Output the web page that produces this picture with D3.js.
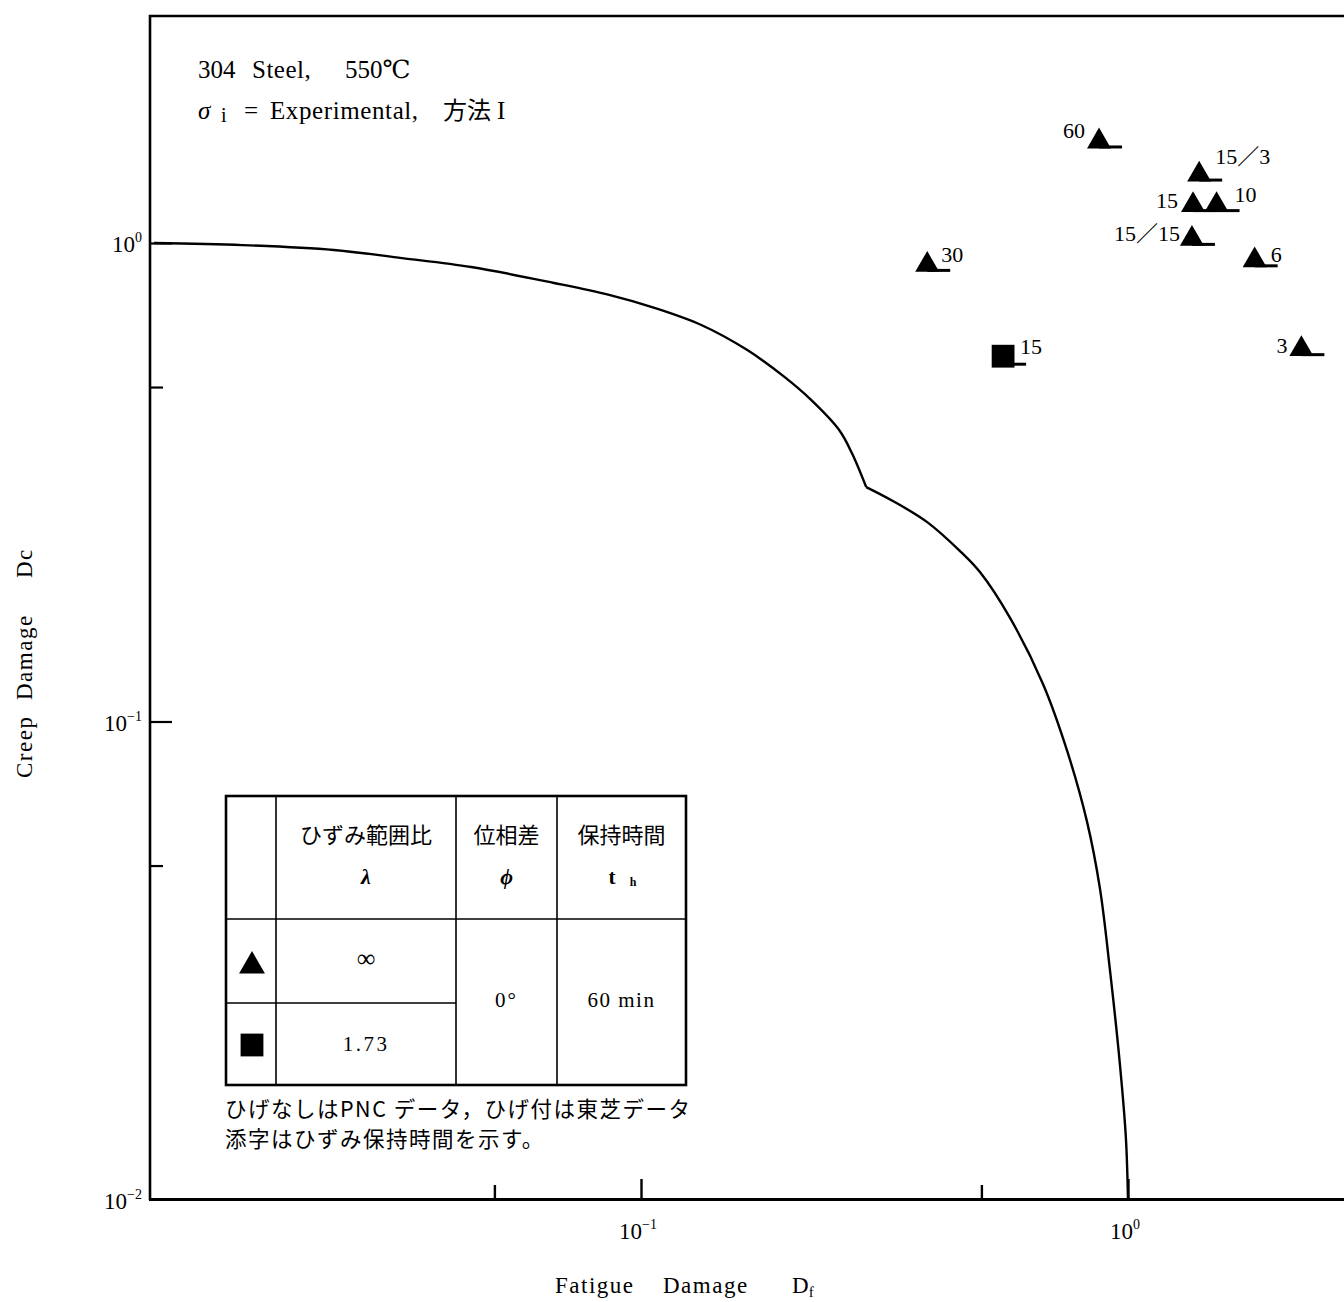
<!DOCTYPE html>
<html><head><meta charset="utf-8">
<script src="https://cdn.jsdelivr.net/npm/d3@7"></script>
<style>
body{margin:0;background:#fff}
svg{display:block}
.serif{font-family:"Liberation Serif","DejaVu Serif","Noto Sans CJK JP",serif;fill:#000}
.cjk{font-family:"Noto Sans CJK JP","Liberation Serif",sans-serif;fill:#000}
</style>
</head><body>
<svg id="c" width="1344" height="1302"></svg>
<script>
// ---------- DATA ----------
// interaction curve (Fatigue damage Df, Creep damage Dc), two branches meeting at a kink
const curveUpperDf = [0.01, 0.0152, 0.0234, 0.0323, 0.0448, 0.0663, 0.086, 0.107, 0.133, 0.165, 0.197, 0.2235, 0.255, 0.271, 0.29];
const curveUpperDc = [1.0, 0.990, 0.967, 0.930, 0.891, 0.825, 0.779, 0.731, 0.674, 0.598, 0.525, 0.470, 0.407, 0.364, 0.309];
const curveLowerDf = [0.29, 0.329, 0.387, 0.452, 0.497, 0.5725, 0.669, 0.750, 0.824, 0.876, 0.918, 0.963, 0.990, 1.0];
const curveLowerDc = [0.309, 0.289, 0.261, 0.227, 0.205, 0.1646, 0.1198, 0.0868, 0.0617, 0.0447, 0.0303, 0.0191, 0.0135, 0.01];

// experimental points
const pointLabels = ["60", "15／3", "15", "10", "15／15", "6", "3", "30", "15"];
const pointDf     = [0.872, 1.40, 1.36, 1.52, 1.353, 1.82, 2.27, 0.387, 0.554];
const pointDc     = [1.63, 1.39, 1.20, 1.20, 1.02, 0.92, 0.60, 0.90, 0.58];
const pointShape  = ["triangle","triangle","triangle","triangle","triangle","triangle","triangle","triangle","square"];
const pointWhisker= [true, true, true, true, true, true, true, true, true];

// ticks
const xMajorTicks = [0.1, 1];
const xMinorTicks = [0.05, 0.5];
const xTickLabels = [["10","−1"], ["10","0"]];
const yMajorTicks = [1, 0.1];
const yMinorTicks = [0.5, 0.05];
const yLabelTicks = [1, 0.1, 0.01];
const yTickLabels = [["10","0"], ["10","−1"], ["10","−2"]];

// legend table
const legendHeaders = ["ひずみ範囲比", "位相差", "保持時間"];
const legendHeaderSymbols = ["λ", "ϕ", "t"];
const legendShapes = ["triangle", "square"];
const legendLambda = ["∞", "1.73"];
const legendPhase = "0°";
const legendHold = "60 min";
const notes = ["ひげなしはPNC データ，ひげ付は東芝データ", "添字はひずみ保持時間を示す。"];

// label layout (side / offsets for point annotations)
const labelLayout = [
  {a:"end", dx:-14, dy:-3}, {a:"start", dx:16, dy:-11}, {a:"end", dx:-15, dy:3},
  {a:"start", dx:18, dy:-3}, {a:"end", dx:-12, dy:2}, {a:"start", dx:16, dy:2},
  {a:"end", dx:-14, dy:4}, {a:"start", dx:14, dy:-3}, {a:"start", dx:17, dy:-2}
];

// ---------- CHART ----------
const svg = d3.select("#c");
const x = d3.scaleLog().domain([0.01, 1]).range([154, 1128]);
const y = d3.scaleLog().domain([0.01, 1]).range([1200, 243]);

// frame
svg.append("path").attr("d","M150,1200 L150,16 L1344,16")
  .attr("fill","none").attr("stroke","#000").attr("stroke-width",2.6);
svg.append("line").attr("x1",149).attr("x2",1344).attr("y1",1199.5).attr("y2",1199.5)
  .attr("stroke","#000").attr("stroke-width",3.2);

// x axis ticks (pointing up)
const xAxisG = svg.append("g").attr("transform","translate(0,1199)");
xAxisG.append("g").call(d3.axisTop(x).tickValues(xMajorTicks).tickSize(20).tickFormat(""))
  .call(g=>g.select(".domain").remove());
xAxisG.append("g").call(d3.axisTop(x).tickValues(xMinorTicks).tickSize(14).tickFormat(""))
  .call(g=>g.select(".domain").remove());
xAxisG.selectAll(".tick line").attr("stroke","#000").attr("stroke-width",2.4);

// y axis ticks (pointing right)
const yAxisG = svg.append("g").attr("transform","translate(150,0)");
yAxisG.append("g").call(d3.axisRight(y).tickValues(yMajorTicks).tickSize(22).tickFormat(""))
  .call(g=>g.select(".domain").remove());
yAxisG.append("g").call(d3.axisRight(y).tickValues(yMinorTicks).tickSize(13).tickFormat(""))
  .call(g=>g.select(".domain").remove());
yAxisG.selectAll(".tick line").attr("stroke","#000").attr("stroke-width",2.2);

// tick labels
xMajorTicks.forEach((v,i)=>{
  const t = svg.append("text").attr("class","serif").attr("x",x(v)-3).attr("y",1239)
    .attr("text-anchor","middle").attr("font-size",23);
  t.append("tspan").text(xTickLabels[i][0]);
  t.append("tspan").attr("font-size",14).attr("dy",-10).text(xTickLabels[i][1]);
});
yLabelTicks.forEach((v,i)=>{
  const t = svg.append("text").attr("class","serif").attr("x",142).attr("y",y(v)+9)
    .attr("text-anchor","end").attr("font-size",23);
  t.append("tspan").text(yTickLabels[i][0]);
  t.append("tspan").attr("font-size",14).attr("dy",-10).text(yTickLabels[i][1]);
});

// axis titles
const xt = svg.append("text").attr("class","serif").attr("y",1293).attr("font-size",23);
xt.append("tspan").attr("x",555).attr("letter-spacing",1.5).text("Fatigue");
xt.append("tspan").attr("x",663).attr("letter-spacing",1.5).text("Damage");
xt.append("tspan").attr("x",792).text("D");
xt.append("tspan").attr("font-size",15).attr("dy",4).text("f");

const yt = svg.append("text").attr("class","serif").attr("font-size",23)
  .attr("transform","translate(32,0) rotate(-90)").attr("y",0);
yt.append("tspan").attr("x",-778).attr("letter-spacing",1.5).text("Creep");
yt.append("tspan").attr("x",-700).attr("letter-spacing",1.5).text("Damage");
yt.append("tspan").attr("x",-578).attr("letter-spacing",1.5).text("Dc");

// annotation text
const a1 = svg.append("text").attr("class","serif").attr("y",78).attr("font-size",25);
a1.append("tspan").attr("x",198).text("304");
a1.append("tspan").attr("x",252).attr("letter-spacing",0.5).text("Steel,");
a1.append("tspan").attr("x",345).text("550℃");
const a2 = svg.append("text").attr("class","serif").attr("y",119).attr("font-size",25);
a2.append("tspan").attr("x",198).attr("font-style","italic").text("σ");
a2.append("tspan").attr("x",221).attr("font-size",20).attr("dy",3).text("i");
a2.append("tspan").attr("x",244).attr("dy",-3).text("=");
a2.append("tspan").attr("x",270).attr("letter-spacing",0.6).text("Experimental,");
a2.append("tspan").attr("x",443).attr("class","cjk").attr("font-size",24).text("方法");
a2.append("tspan").attr("x",497).text("I");

// curve
const line = d3.line().x(d=>x(d[0])).y(d=>y(d[1])).curve(d3.curveCatmullRom.alpha(0.5));
const upper = curveUpperDf.map((v,i)=>[v, curveUpperDc[i]]);
const lower = curveLowerDf.map((v,i)=>[v, curveLowerDc[i]]);
[upper, lower].forEach(seg=>{
  svg.append("path").attr("d", line(seg)).attr("fill","none")
    .attr("stroke","#000").attr("stroke-width",2.4).attr("stroke-linejoin","miter");
});

// points
const triSym = d3.symbol().type(d3.symbolTriangle).size(250);
const sqSym = d3.symbol().type(d3.symbolSquare).size(520);
pointDf.forEach((v,i)=>{
  const cx = x(v), cy = y(pointDc[i]);
  const tri = pointShape[i]==="triangle";
  svg.append("path").attr("d", tri ? triSym() : sqSym())
    .attr("transform",`translate(${cx},${cy})`).attr("fill","#000");
  if(pointWhisker[i]){
    const wy = tri ? cy+5.5 : cy+8;
    svg.append("line").attr("x1",cx).attr("x2",cx+23).attr("y1",wy).attr("y2",wy)
      .attr("stroke","#000").attr("stroke-width",3);
  }
  const L = labelLayout[i];
  svg.append("text").attr("class","serif").attr("font-size",22)
    .attr("x",cx+L.dx).attr("y",cy+L.dy).attr("text-anchor",L.a).text(pointLabels[i]);
});

// legend table
const T = {l:226, t:796, r:686, b:1085, c1:276, c2:456, c3:557, h:919, m:1003};
svg.append("rect").attr("x",T.l).attr("y",T.t).attr("width",T.r-T.l).attr("height",T.b-T.t)
  .attr("fill","#fff").attr("stroke","#000").attr("stroke-width",2.6);
[[T.c1,T.t,T.c1,T.b],[T.c2,T.t,T.c2,T.b],[T.c3,T.t,T.c3,T.b],[T.l,T.h,T.r,T.h],[T.l,T.m,T.c2,T.m]]
  .forEach(s=>svg.append("line").attr("x1",s[0]).attr("y1",s[1]).attr("x2",s[2]).attr("y2",s[3])
    .attr("stroke","#000").attr("stroke-width",1.6));
const colC = [(T.c1+T.c2)/2, (T.c2+T.c3)/2, (T.c3+T.r)/2];
legendHeaders.forEach((h,i)=>{
  svg.append("text").attr("class","cjk").attr("font-size",22).attr("x",colC[i]).attr("y",843)
    .attr("text-anchor","middle").text(h);
});
svg.append("text").attr("class","serif").attr("font-size",22).attr("font-weight","bold")
  .attr("font-style","italic").attr("x",colC[0]).attr("y",884).attr("text-anchor","middle").text(legendHeaderSymbols[0]);
svg.append("text").attr("class","serif").attr("font-size",22).attr("font-weight","bold")
  .attr("font-style","italic").attr("x",colC[1]).attr("y",884).attr("text-anchor","middle").text(legendHeaderSymbols[1]);
const th = svg.append("text").attr("class","serif").attr("font-size",21).attr("font-weight","bold")
  .attr("x",612).attr("y",884).attr("text-anchor","middle");
th.append("tspan").text(legendHeaderSymbols[2]);
th.append("tspan").attr("x",633).attr("font-size",12).attr("dy",2).text("h");

const rowC = [(T.h+T.m)/2, (T.m+T.b)/2];
legendShapes.forEach((s,i)=>{
  const cy = s==="triangle" ? rowC[i]+5 : rowC[i]+1;
  svg.append("path").attr("d", s==="triangle" ? d3.symbol().type(d3.symbolTriangle).size(290)() : sqSym())
    .attr("transform",`translate(${(T.l+T.c1)/2+1},${cy})`).attr("fill","#000");
  svg.append("text").attr("class","serif").attr("font-size",i===0?26:21).attr("letter-spacing",i===0?0:2.5)
    .attr("x",colC[0]).attr("y",rowC[i]+(i===0?6:7)).attr("text-anchor","middle").text(legendLambda[i]);
});
svg.append("text").attr("class","serif").attr("font-size",21).attr("letter-spacing",2)
  .attr("x",colC[1]).attr("y",1007).attr("text-anchor","middle").text(legendPhase);
svg.append("text").attr("class","serif").attr("font-size",21).attr("letter-spacing",1.5)
  .attr("x",colC[2]).attr("y",1007).attr("text-anchor","middle").text(legendHold);

notes.forEach((n,i)=>{
  svg.append("text").attr("class","cjk").attr("font-size",21.5).attr("letter-spacing",1.5)
    .attr("x",225).attr("y",1117+i*30).text(n);
});
</script>
</body></html>
